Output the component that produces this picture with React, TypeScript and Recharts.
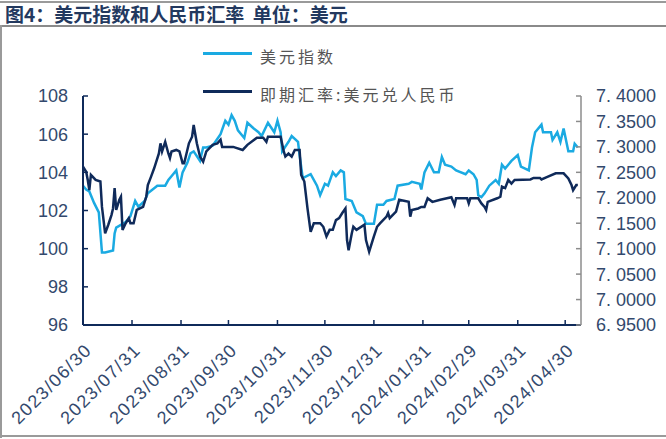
import React from 'react';
import { Line, LineChart, XAxis, YAxis } from 'recharts';

// x = days since 2023/06/30
const monthTicks = [0, 31, 62, 92, 123, 153, 184, 215, 244, 275, 305];
const monthLabels = [
  '2023/06/30', '2023/07/31', '2023/08/31', '2023/09/30', '2023/10/31', '2023/11/30',
  '2023/12/31', '2024/01/31', '2024/02/29', '2024/03/31', '2024/04/30',
];
const dxyTicks = [96, 98, 100, 102, 104, 106, 108];
const cnyTicks = [6.95, 7.0, 7.05, 7.1, 7.15, 7.2, 7.25, 7.3, 7.35, 7.4];
const seriesNames = ['美元指数', '即期汇率:美元兑人民币'];

const dxyDays = [
  0, 2, 4, 7, 10, 12, 14, 19, 20, 21, 27, 30, 33, 35, 39, 41, 47, 52, 54, 57, 59, 61, 63, 66, 68,
  70, 74, 76, 78, 82, 87, 90, 92, 94, 96, 98, 102, 104, 108, 111, 113, 117, 121, 123, 125, 126,
  130, 132, 136, 137, 139, 144, 148, 150, 153, 155, 158, 160, 163, 165, 166, 170, 173, 177, 179,
  184, 186, 190, 192, 197, 199, 206, 208, 213, 214, 216, 219, 222, 225, 227, 229, 233, 236, 242,
  244, 247, 249, 250, 252, 254, 257, 261, 263, 265, 267, 269, 271, 275, 277, 282, 284, 286, 290,
  291, 296, 297, 300, 302, 304, 306, 307, 310, 311, 313,
];
const dxyValues = [
  103.3, 103.1, 103.0, 102.4, 101.9, 99.8, 99.8, 99.9, 100.8, 101.1, 101.4, 101.7, 102.5, 102.2,
  102.5, 102.9, 103.3, 103.3, 103.6, 103.9, 104.1, 103.2, 104.0, 104.5, 105.0, 105.1, 104.6,
  105.3, 105.3, 105.4, 106.0, 106.7, 106.5, 107.0, 106.7, 106.2, 105.8, 106.6, 106.3, 106.1,
  105.9, 106.6, 106.1, 106.7, 106.1, 105.1, 105.6, 105.9, 105.6, 104.9, 103.7, 103.9, 103.3,
  102.8, 103.4, 103.3, 104.0, 103.8, 104.1, 104.0, 102.6, 102.5, 101.9, 101.7, 101.3, 101.3,
  102.3, 102.3, 102.5, 102.6, 103.3, 103.4, 103.5, 103.4, 103.1, 104.0, 104.5, 104.0, 104.0,
  104.8, 104.4, 104.3, 104.1, 103.9, 104.1, 103.9, 103.6, 102.8, 102.7, 102.9, 103.3, 103.6,
  103.4, 104.4, 104.2, 104.4, 104.6, 104.9, 104.3, 104.1, 105.3, 106.1, 106.5, 106.1, 106.1,
  105.7, 106.1, 105.6, 106.3, 105.5, 105.1, 105.1, 105.5, 105.3,
];

const cnyDays = [
  0, 2, 3, 4, 5, 8, 11, 12, 14, 16, 18, 19, 20, 21, 23, 24, 25, 27, 29, 30, 32, 34, 38, 40, 41,
  43, 45, 48, 49, 50, 52, 54, 55, 56, 59, 61, 63, 64, 67, 69, 70, 72, 74, 76, 78, 82, 85, 87, 88,
  95, 101, 104, 110, 114, 116, 117, 125, 127, 128, 130, 132, 134, 137, 138, 140, 142, 144, 146,
  150, 152, 154, 156, 158, 160, 162, 164, 166, 167, 168, 170, 171, 173, 178, 179, 181, 184, 186,
  188, 192, 193, 194, 198, 200, 206, 207, 208, 212, 214, 216, 218, 221, 226, 233, 235, 236, 243,
  244, 245, 250, 252, 254, 255, 256, 262, 264, 265, 267, 269, 271, 273, 283, 285, 289, 290, 293,
  299, 304, 307, 309, 310, 312, 313,
];
const cnyValues = [
  7.261, 7.251, 7.235, 7.215, 7.245, 7.235, 7.232, 7.182, 7.13, 7.147, 7.166, 7.179, 7.219,
  7.176, 7.196, 7.202, 7.137, 7.15, 7.16, 7.15, 7.15, 7.176, 7.182, 7.202, 7.225, 7.241, 7.258,
  7.287, 7.307, 7.291, 7.31, 7.287, 7.278, 7.291, 7.294, 7.291, 7.268, 7.268, 7.307, 7.32, 7.343,
  7.307, 7.281, 7.271, 7.291, 7.304, 7.307, 7.314, 7.3, 7.3, 7.294, 7.304, 7.318, 7.318, 7.31,
  7.32, 7.32, 7.291, 7.281, 7.287, 7.281, 7.294, 7.294, 7.245, 7.232, 7.179, 7.133, 7.15, 7.15,
  7.143, 7.124, 7.137, 7.137, 7.156, 7.16, 7.17, 7.179, 7.117, 7.097, 7.13, 7.143, 7.137, 7.147,
  7.117, 7.094, 7.124, 7.143, 7.15, 7.163, 7.17, 7.16, 7.173, 7.196, 7.192, 7.163, 7.176, 7.179,
  7.182, 7.182, 7.199, 7.192, 7.196, 7.201, 7.186, 7.199, 7.199, 7.189, 7.199, 7.199, 7.189,
  7.182, 7.176, 7.192, 7.199, 7.202, 7.222, 7.219, 7.235, 7.228, 7.235, 7.236, 7.239, 7.239,
  7.236, 7.24, 7.248, 7.248, 7.238, 7.225, 7.215, 7.225, 7.225,
];

const LIGHT = '#1aaae2';
const NAVY = '#0f2a5a';
const LABEL = '#33496d';
const FONT = '"Liberation Sans", Arial, sans-serif';

type Row = { d: number; dxy?: number; cny?: number };
const byDay = new Map<number, Row>();
dxyDays.forEach((d, i) => {
  const r = byDay.get(d) ?? { d };
  r.dxy = dxyValues[i];
  byDay.set(d, r);
});
cnyDays.forEach((d, i) => {
  const r = byDay.get(d) ?? { d };
  r.cny = cnyValues[i];
  byDay.set(d, r);
});
const rows = [...byDay.values()].sort((a, b) => a.d - b.d);

const fmtCny = (v: number) => {
  const s = v.toFixed(4);
  return `${s[0]}. ${s.slice(2)}`;
};

const BottomTick = ({ x, y, payload }: any) => {
  const label = monthLabels[monthTicks.indexOf(payload.value)] ?? '';
  const ax = x + 10;
  const ay = y + 26;
  return (
    <g>
      <line x1={x} y1={y} x2={x} y2={y - 5} stroke={NAVY} strokeWidth={1.5} />
      <text x={ax} y={ay} transform={`rotate(-45 ${ax} ${ay})`} textAnchor="end" fill={LABEL}
        fontSize={18} letterSpacing={1.5} fontFamily={FONT}>
        {label}
      </text>
    </g>
  );
};

const LeftTick = ({ x, y, payload }: any) => (
  <g>
    <line x1={x} y1={y} x2={x + 5} y2={y} stroke={NAVY} strokeWidth={1.5} />
    <text x={x - 15} y={y} dy="0.36em" textAnchor="end" fill={LABEL} fontSize={18} fontFamily={FONT}>
      {payload.value}
    </text>
  </g>
);

const RightTick = ({ x, y, payload }: any) => (
  <g>
    <line x1={x - 5} y1={y} x2={x} y2={y} stroke="#8c8c8c" strokeWidth={1.5} />
    <text x={x + 15} y={y} dy="0.36em" textAnchor="start" fill={LABEL} fontSize={18} fontFamily={FONT}>
      {fmtCny(payload.value)}
    </text>
  </g>
);

export default function App() {
  return (
    <div style={{ position: 'absolute', left: 0, top: 0, width: 666, height: 439, background: '#fff', overflow: 'hidden' }}>
      {/* frame */}
      <div style={{ position: 'absolute', left: 0, top: 1, width: 666, height: 2, background: '#9a9a9a' }} />
      <div style={{ position: 'absolute', left: 0, top: 25, width: 666, height: 2, background: '#8a8a8a' }} />
      <div style={{ position: 'absolute', left: 0, top: 25, width: 2, height: 413, background: '#9a9a9a' }} />
      <div style={{ position: 'absolute', left: 0, top: 435, width: 666, height: 2, background: '#9a9a9a' }} />
      <div
        style={{
          position: 'absolute', left: 5, top: 3, fontSize: 19, fontWeight: 'bold', color: '#23395f',
          fontFamily: '"Noto Sans CJK SC", sans-serif', whiteSpace: 'pre', lineHeight: '22px',
        }}
      >
        图4：美元指数和人民币汇率  单位：美元
      </div>

      <LineChart width={666} height={439} data={rows} margin={{ top: 96, right: 0, bottom: 0, left: 23 }}
        style={{ position: 'absolute', left: 0, top: 0 }}>
        <XAxis dataKey="d" type="number" domain={[0, 315]} ticks={monthTicks} interval={0} height={114}
          axisLine={{ stroke: NAVY, strokeWidth: 2 }} tickLine={false} tickSize={0} tickMargin={0}
          tick={<BottomTick />} />
        <YAxis yAxisId="left" orientation="left" domain={[96, 108]} ticks={dxyTicks} width={60}
          axisLine={{ stroke: NAVY, strokeWidth: 2 }} tickLine={false} tickSize={0} tickMargin={0}
          tick={<LeftTick />} allowDataOverflow />
        <YAxis yAxisId="right" orientation="right" domain={[6.95, 7.4]} ticks={cnyTicks} width={85}
          axisLine={{ stroke: '#8c8c8c', strokeWidth: 1.5 }} tickLine={false} tickSize={0} tickMargin={0}
          tick={<RightTick />} allowDataOverflow />
        <Line yAxisId="left" dataKey="dxy" name={seriesNames[0]} stroke={LIGHT} strokeWidth={2.5} dot={false}
          connectNulls isAnimationActive={false} />
        <Line yAxisId="right" dataKey="cny" name={seriesNames[1]} stroke={NAVY} strokeWidth={2.5} dot={false}
          connectNulls isAnimationActive={false} />
      </LineChart>

      {/* legend */}
      {[LIGHT, NAVY].map((c, i) => (
        <div key={i} style={{ position: 'absolute', left: 203, top: 40 + i * 38, display: 'flex', alignItems: 'center' }}>
          <div style={{ width: 49, height: 3, background: c, marginRight: 8 }} />
          <span style={{ fontSize: 16, letterSpacing: 3, color: '#555', fontFamily: '"Noto Sans CJK SC", sans-serif', lineHeight: '22px', marginTop: 5 }}>
            {seriesNames[i]}
          </span>
        </div>
      ))}
    </div>
  );
}
